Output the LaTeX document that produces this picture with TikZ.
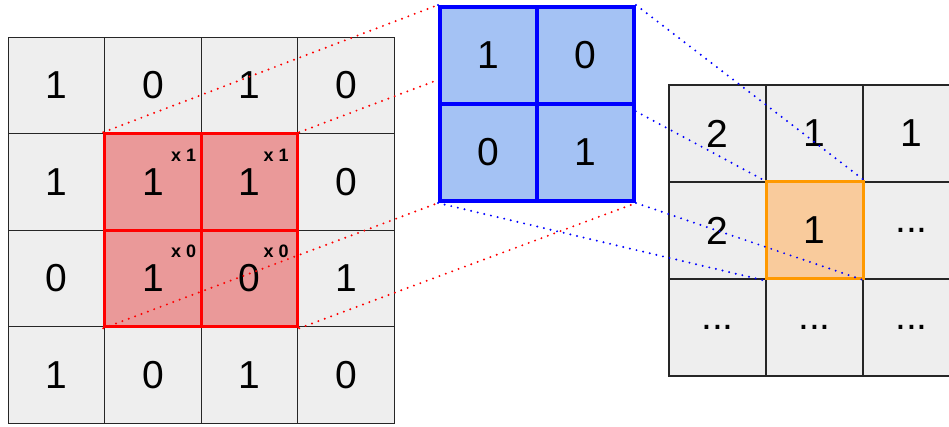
\documentclass[tikz,border=0pt]{standalone}
\usepackage{fontspec}
\setmainfont{Liberation Sans}
\usepackage{tikz}
\usetikzlibrary{positioning, calc}
\definecolor{cellgray}{HTML}{EEEEEE}
\definecolor{hotred}{HTML}{EA9999}
\definecolor{kernblue}{HTML}{A4C2F4}
\definecolor{outorange}{HTML}{F9CB9C}
\definecolor{orangeline}{HTML}{FF9900}
\pgfdeclarelayer{front}
\pgfsetlayers{main,front}

\begin{document}
\begin{tikzpicture}[x=1pt,y=-1pt,
    cell/.style={draw=black!85, fill=cellgray, line width=1.3pt, minimum size=96.5pt,
      inner sep=0pt, font=\fontsize{39}{40}\selectfont},
    hot/.style={cell, draw=red, fill=hotred, line width=3pt},
    kern/.style={cell, draw=blue, fill=kernblue, line width=4pt, minimum size=97pt},
    res/.style={cell, draw=orangeline, fill=outorange, line width=3pt, minimum size=97pt},
    mult/.style={inner sep=0pt, font=\fontsize{18}{18}\selectfont\bfseries},
    redlink/.style={red, line width=2.2pt, dash pattern=on 0pt off 6.8pt, line cap=round},
    bluelink/.style={redlink, blue}]
      \useasboundingbox (0,0) rectangle (949,427);
      \clip (0,0) rectangle (949,427);
      % input
      \node[cell] (in_11) at (56.5,85.5) {1};
      \node[cell] (in_12) at (153,85.5) {0};
      \node[cell] (in_13) at (249.5,85.5) {1};
      \node[cell] (in_14) at (346,85.5) {0};
      \node[cell] (in_21) at (56.5,182) {1};
      \node[cell] (in_24) at (346,182) {0};
      \node[cell] (in_31) at (56.5,278.5) {0};
      \node[cell] (in_34) at (346,278.5) {1};
      \node[cell] (in_41) at (56.5,375) {1};
      \node[cell] (in_42) at (153,375) {0};
      \node[cell] (in_43) at (249.5,375) {1};
      \node[cell] (in_44) at (346,375) {0};
      \node[hot] (in_22) at (153,182) {1};
      \node[hot] (in_23) at (249.5,182) {1};
      \node[hot] (in_32) at (153,278.5) {1};
      \node[hot] (in_33) at (249.5,278.5) {0};
      %
      \node[mult] (w_22) at ([shift={(-19,23)}]in_22.north east) {x 1};
      \node[mult] (w_23) at ([shift={(-23,23)}]in_23.north east) {x 1};
      \node[mult] (w_32) at ([shift={(-19,23)}]in_32.north east) {x 0};
      \node[mult] (w_33) at ([shift={(-23,23)}]in_33.north east) {x 0};
      % output
      \node[cell, minimum size=97pt] (out_11) at (717.5,133.5) {2};
      \node[cell, minimum size=97pt] (out_12) at (814.5,133.5) {1};
      \node[cell, minimum size=97pt] (out_13) at (911.5,133.5) {1};
      \node[cell, minimum size=97pt] (out_21) at (717.5,230.5) {2};
      \node[cell, minimum size=97pt] (out_23) at (911.5,230.5) {...};
      \node[cell, minimum size=97pt] (out_31) at (717.5,327.5) {...};
      \node[cell, minimum size=97pt] (out_32) at (814.5,327.5) {...};
      \node[cell, minimum size=97pt] (out_33) at (911.5,327.5) {...};
      \node[res] (out_22) at (814.5,230.5) {1};

      % kernel, on top of the links
      \begin{pgfonlayer}{front}
      \node[kern] (k_11) at (488.5,55.5) {1};
      \node[kern] (k_12) at (585.5,55.5) {0};
      \node[kern] (k_21) at (488.5,152.5) {0};
      \node[kern] (k_22) at (585.5,152.5) {1};
      \end{pgfonlayer}

      \draw[redlink] (in_22.north west) -- (k_11.north west);
      \draw[redlink] (in_23.north east) -- (k_12.north east);
      \draw[redlink] (in_32.south west) -- (k_21.south west);
      \draw[redlink] (in_33.south east) -- (k_22.south east);
      \draw[bluelink] (k_11.north west) -- (out_22.north west);
      \draw[bluelink] (k_12.north east) -- (out_22.north east);
      \draw[bluelink] (k_21.south west) -- (out_22.south west);
      \draw[bluelink] (k_22.south east) -- (out_22.south east);
\end{tikzpicture}
\end{document}
